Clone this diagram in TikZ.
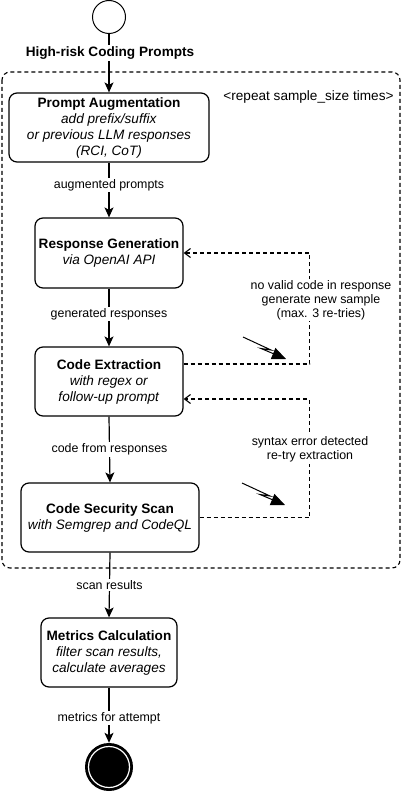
\documentclass[tikz,border=0pt]{standalone}
\usepackage{fontspec}
\setmainfont{Liberation Sans}
\usetikzlibrary{arrows.meta}
\begin{document}
\begin{tikzpicture}[x=1pt,y=-1pt,
  box/.style={draw, line width=1.2pt, rounded corners=8pt, inner sep=0pt, align=center,
    font=\fontsize{13.6}{16}\selectfont},
  lbl/.style={fill=white, inner sep=1.5pt, align=center, font=\fontsize{12.4}{14}\selectfont},
  arr/.style={line width=1.2pt, -{Stealth[length=10pt,width=9pt,inset=2.5pt]}},
  fb/.style={line width=1.1pt, dash pattern=on 4pt off 3pt, -{Straight Barb[length=6pt,width=9pt]}},
  bolt/.style={line width=1pt, -{Triangle[length=14pt,width=12pt]}}]
\useasboundingbox (0,0) rectangle (402,794);
% container
\draw[line width=1.1pt, dash pattern=on 4pt off 3pt, rounded corners=8pt] (2,72) rectangle (400,568);
\node[font=\fontsize{13.6}{16}\selectfont, inner sep=0pt] (rep) at (308.5,97) {<repeat sample\_size times>};
% nodes
\node[circle, draw, line width=1pt, minimum size=33pt, inner sep=0pt] (start) at (109,17) {};
\node[box, minimum width=200pt, minimum height=69pt] (PA) at (109,127.5)
  {\textbf{Prompt Augmentation}\\\textit{add prefix/suffix}\\\textit{or previous LLM responses}\\\textit{(RCI, CoT)}};
\node[box, minimum width=148pt, minimum height=70pt] (RG) at (109,253)
  {\textbf{Response Generation}\\\textit{via OpenAI API}};
\node[box, minimum width=148pt, minimum height=69pt] (CE) at (109,381.5)
  {\textbf{Code Extraction}\\\textit{with regex or}\\\textit{follow-up prompt}};
\node[box, minimum width=178pt, minimum height=69pt] (CSS) at (110,517.5)
  {\textbf{Code Security Scan}\\\textit{with Semgrep and CodeQL}};
\node[box, minimum width=136pt, minimum height=69pt] (MC) at (109,652.5)
  {\textbf{Metrics Calculation}\\\textit{filter scan results,}\\\textit{calculate averages}};
\node[circle, fill=black, minimum size=48pt, inner sep=0pt] (end) at (109,767) {};
\draw[white, line width=1.2pt] (end.center) circle (20.5);
% main flow
\draw[arr] (start) -- (PA.north);
\node[fill=white, inner sep=1.5pt, font=\bfseries\fontsize{13.6}{16}\selectfont] (title) at (110,53) {High-risk Coding Prompts};
\draw[arr] (PA.south) -- node[lbl, pos=0.41] (l1) {augmented prompts} (RG.north);
\draw[arr] (RG.south) -- node[lbl, pos=0.44] (l2) {generated responses} (CE.north);
\draw[arr] (CE.south) -- node[lbl, pos=0.5] (l3) {code from responses} (CSS.north);
\draw[arr] (CSS.south) -- node[lbl, pos=0.5] (l4) {scan results} (MC.north);
\draw[arr] (MC.south) -- node[lbl, pos=0.55] (l5) {metrics for attempt} (end.north);
% feedback loops
\draw[fb] ([yshift=17.5pt]CE.east) -- ++(126,0) |- (RG.east);
\node[lbl] (fl1) at (321,300) {no valid code in response\\generate new sample\\(max. 3 re-tries)};
\draw[fb] (CSS.east) -- ++(110,0) |- ([yshift=-17.5pt]CE.east);
\node[lbl] (fl2) at (310,449.5) {syntax error detected\\re-try extraction};
% lightning arrows
\draw[bolt] (243,337) -- (271,350) -- (261,348.5) -- (286,359);
\draw[bolt] (242,483) -- (270,496) -- (260,494.5) -- (285,505);
\end{tikzpicture}
\end{document}
